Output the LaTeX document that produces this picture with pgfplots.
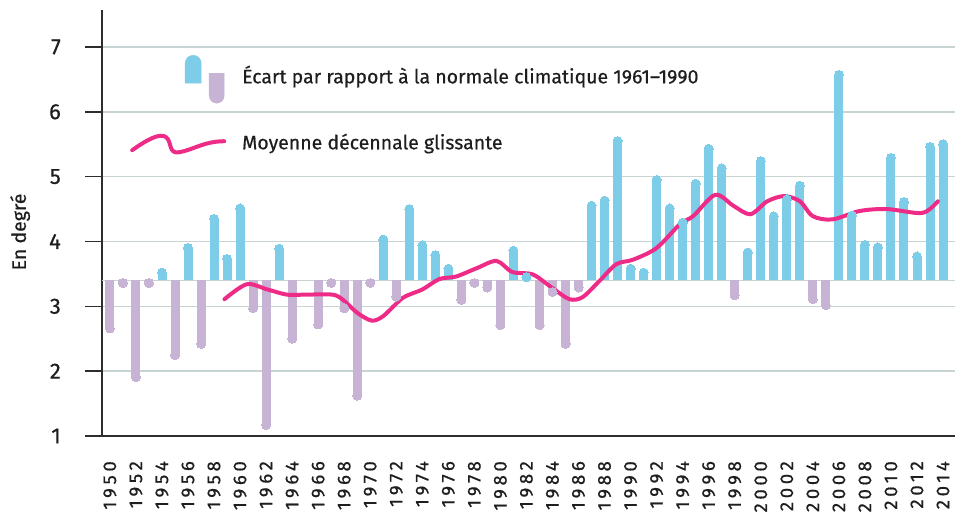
\documentclass[border=0pt]{standalone}
\usepackage{fontspec}
\setmainfont{Fira Sans}[FakeBold=0.5]
\newfontfamily\xlabfont[LetterSpace=20,FakeBold=0.6]{Fira Sans}
\usepackage{pgfplots}
\pgfplotsset{compat=1.18}
\definecolor{bluebar}{RGB}{126,205,232}
\definecolor{purplebar}{RGB}{199,180,212}
\definecolor{pinkline}{RGB}{238,44,136}
\definecolor{gridc}{RGB}{200,212,212}
\definecolor{axisc}{RGB}{45,45,45}
\definecolor{textc}{RGB}{30,30,30}
\begin{document}
\begin{tikzpicture}
\path[use as bounding box] (-102bp,-78bp) rectangle (853bp,436bp);
\begin{axis}[
  scale only axis, width=853bp, height=426bp,
  at={(0,0)}, anchor=south west,
  xmin=1949.39, xmax=2014.92,
  ymin=1, ymax=7.57,
  y coord trafo/.code={\pgfmathparse{#1-3.4}},
  y coord inv trafo/.code={\pgfmathparse{#1+3.4}},
  axis x line*=bottom, axis y line*=left,
  axis line style={axisc, line width=1.6bp},
  ytick={1,2,3,4,5,6,7},
  yticklabels={1,2,3,4,5,6,7},
  extra y ticks={3.4}, extra y tick labels={},
  extra y tick style={major tick length=0pt},
  ymajorgrids, grid style={gridc, line width=1.5bp},
  tick align=outside,
  major tick length=17bp,
  ytick style={axisc, line width=1.5bp},
  xtick={1950,1952,...,2014},
  xticklabels={1950,1952,1954,1956,1958,1960,1962,1964,1966,1968,1970,1972,1974,1976,1978,1980,1982,1984,1986,1988,1990,1992,1994,1996,1998,2000,2002,2004,2006,2008,2010,2012,2014},
  xtick style={draw=none},
  xticklabel style={rotate=90, anchor=east, inner sep=0pt, font=\xlabfont\fontsize{18.5bp}{18.5bp}\selectfont, text=textc},
  xticklabel shift=8bp,
  yticklabel style={anchor=east, inner sep=0pt, font=\fontsize{22bp}{22bp}\selectfont, text=textc},
  yticklabel shift=24bp,
  ylabel={En degré},
  every axis y label/.style={at={(axis description cs:-0.096,0.479)}, rotate=90, anchor=center, font=\fontsize{19.5bp}{19.5bp}\selectfont, text=textc},
  legend cell align=left,
  legend style={at={(axis description cs:0.0328,0.926)}, anchor=north west, draw=none, fill=none, inner sep=0pt, row sep=0pt,
    font=\fontsize{19.5bp}{19.5bp}\selectfont, text=textc,
    nodes={inner sep=0pt},
    /tikz/every odd column/.append style={column sep=16bp}},
]
% positive anomalies (blue)
\addplot[ycomb, draw=bluebar, line width=9bp, mark=*, mark size=4.5bp, mark options={draw=none, line width=0pt, fill=bluebar}, forget plot] coordinates {
(1954,3.52) (1956,3.90) (1958,4.35) (1959,3.73) (1960,4.51) (1963,3.89)
(1971,4.03) (1973,4.50) (1974,3.94) (1975,3.79) (1976,3.58)
(1981,3.86) (1982,3.45) (1987,4.55) (1988,4.63) (1989,5.55)
(1990,3.58) (1991,3.52) (1992,4.95) (1993,4.51) (1994,4.29) (1995,4.89)
(1996,5.43) (1997,5.13) (1999,3.83) (2000,5.24) (2001,4.39) (2002,4.65)
(2003,4.86) (2006,6.57) (2007,4.40) (2008,3.95) (2009,3.91) (2010,5.29)
(2011,4.61) (2012,3.77) (2013,5.46) (2014,5.50)
};
% negative anomalies (purple)
\addplot[ycomb, draw=purplebar, line width=9bp, mark=*, mark size=4.5bp, mark options={draw=none, line width=0pt, fill=purplebar}, forget plot] coordinates {
(1950,2.66) (1951,3.36) (1952,1.91) (1953,3.36) (1955,2.25) (1957,2.42)
(1961,2.97) (1962,1.17) (1964,2.50) (1966,2.72) (1967,3.36) (1968,2.97)
(1969,1.62) (1970,3.36) (1972,3.15) (1977,3.10) (1978,3.36) (1979,3.29)
(1980,2.71) (1983,2.71) (1984,3.22) (1985,2.42) (1986,3.29)
(1998,3.17) (2004,3.11) (2005,3.02)
};
\addlegendimage{legend image code/.code={
  \path[draw=none, fill=none] (0bp,-33.5bp) rectangle (92bp,33.5bp);
  \fill[bluebar] (53bp,-8bp) -- (53bp,12bp) arc[start angle=180, end angle=0, radius=8bp] -- (69bp,-8bp) -- cycle;
  \fill[purplebar] (77bp,2bp) -- (77bp,-20.5bp) arc[start angle=180, end angle=360, radius=7.5bp] -- (92bp,2bp) -- cycle;
}}
\addlegendentry{Écart par rapport à la normale climatique 1961–1990}
% decennial moving average
\addplot[pinkline, line width=4bp, smooth, tension=0.5, line cap=round,
  legend image code/.code={
    \path[draw=none, fill=none] (0bp,-33.5bp) rectangle (92bp,33.5bp);
    \draw[pinkline, line width=4bp, line cap=round] (0bp,-8bp) .. controls (14bp,2bp) and (28bp,10bp) .. (34bp,5bp) .. controls (40bp,0bp) and (36bp,-12bp) .. (47bp,-10bp) .. controls (60bp,-8bp) and (72bp,1bp) .. (92bp,1bp);
  }] coordinates {
(1958.8,3.11) (1960.5,3.34) (1962.1,3.26) (1963.6,3.18) (1965,3.18) (1967.1,3.18)
(1967.9,3.10) (1969.0,2.90) (1970.1,2.78) (1971,2.85) (1972.5,3.13) (1974,3.26)
(1975.3,3.42) (1976.6,3.46) (1978.2,3.59) (1979.7,3.70) (1980.9,3.53) (1982.5,3.49)
(1984,3.28) (1985.3,3.11) (1986.3,3.14) (1987.6,3.39) (1988.9,3.65) (1990.2,3.72)
(1992,3.90) (1993.8,4.27) (1994.8,4.39) (1996.5,4.72) (1997.9,4.55) (1999.2,4.42)
(2000.5,4.62) (2001.8,4.70) (2003,4.62) (2004,4.39) (2005.5,4.34) (2007.6,4.47)
(2009.7,4.50) (2012.4,4.44) (2013.6,4.62)
};
\addlegendentry{Moyenne décennale glissante}
\end{axis}
\end{tikzpicture}
\end{document}
